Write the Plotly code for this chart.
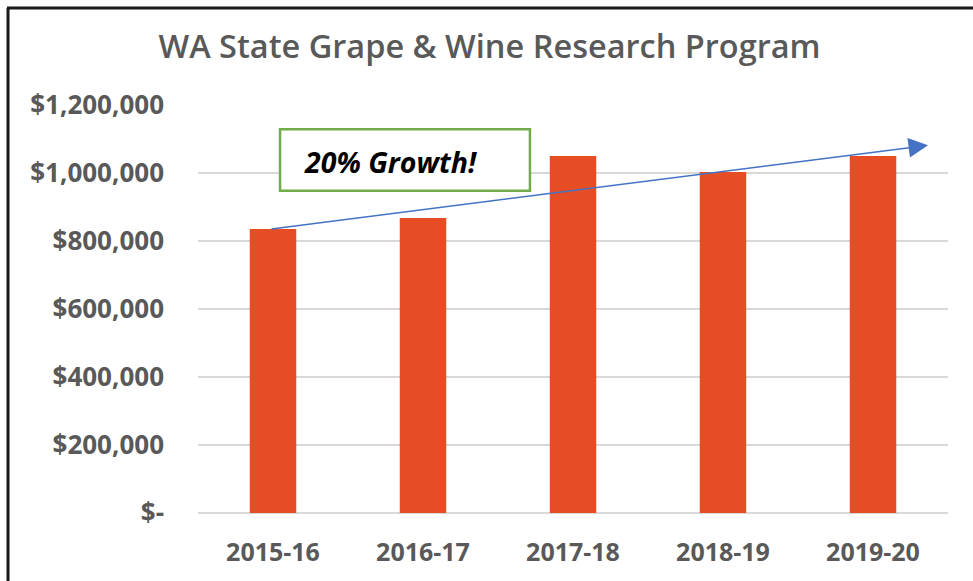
import plotly.graph_objects as go

categories = ["2015-16", "2016-17", "2017-18", "2018-19", "2019-20"]
funding = [835000, 868000, 1050000, 1003000, 1050000]
y_tick_values = [0, 200000, 400000, 600000, 800000, 1000000, 1200000]
y_tick_labels = ["$-", "$200,000", "$400,000", "$600,000", "$800,000", "$1,000,000", "$1,200,000"]
title_text = "WA State Grape & Wine Research Program"
callout_text = "20% Growth!"

FONT = "Open Sans"
GREY = "#595959"

fig = go.Figure()
fig.add_trace(go.Bar(
    x=categories, y=funding, width=0.31,
    marker=dict(color="#E64D24", line=dict(width=0)),
    hoverinfo="x+y",
))

fig.update_layout(
    width=973, height=581,
    margin=dict(l=198, r=25, t=105, b=68),
    paper_bgcolor="white", plot_bgcolor="white",
    showlegend=False,
    title=dict(text=title_text, x=489.5 / 973, xref="container", xanchor="center",
               y=1 - 47 / 581, yanchor="middle",
               font=dict(family=FONT, size=32.5, color=GREY, weight=600)),
    xaxis=dict(type="category", range=[-0.5, 4.5], showgrid=False,
               showline=False, zeroline=False, ticks="",
               tickfont=dict(family=FONT, size=25, color=GREY, weight="bold"),
               ticklabelstandoff=22),
    yaxis=dict(range=[0, 1200000], tickvals=y_tick_values, ticktext=y_tick_labels,
               showgrid=True, gridcolor="#D9D9D9", gridwidth=2,
               zeroline=True, zerolinecolor="#D9D9D9", zerolinewidth=2,
               showline=False, ticks="",
               tickfont=dict(family=FONT, size=26, color=GREY, weight="bold"),
               ticklabelstandoff=33),
)

# outer frame (top and left edges)
fig.add_shape(type="line", xref="paper", yref="paper",
              x0=-0.2547, x1=1.04, y0=1.2377, y1=1.2377,
              line=dict(color="#1a1a1a", width=3))
fig.add_shape(type="line", xref="paper", yref="paper",
              x0=-0.2533, x1=-0.2533, y0=1.2377, y1=-0.2,
              line=dict(color="#1a1a1a", width=3))

# callout box
fig.add_shape(type="rect", xref="x", yref="y",
              x0=0.047, x1=1.713, y0=948000, y1=1129000,
              line=dict(color="#70AD47", width=2.5), fillcolor="white")
fig.add_annotation(x=0.19, y=1033000, xref="x", yref="y", text=callout_text,
                   showarrow=False, xanchor="left", yanchor="middle",
                   font=dict(family=FONT, size=28.5, color="black", weight="bold", style="italic"))

# growth arrow
fig.add_annotation(x=4.367, y=1081500, ax=-0.02, ay=funding[0],
                   xref="x", yref="y", axref="x", ayref="y",
                   text="", showarrow=True, arrowhead=2, arrowsize=2.6,
                   arrowwidth=1.5, arrowcolor="#4472C4", standoff=0)

fig.write_html("out.html", config={"displayModeBar": False},
               post_script="document.body.style.margin='0px';")
